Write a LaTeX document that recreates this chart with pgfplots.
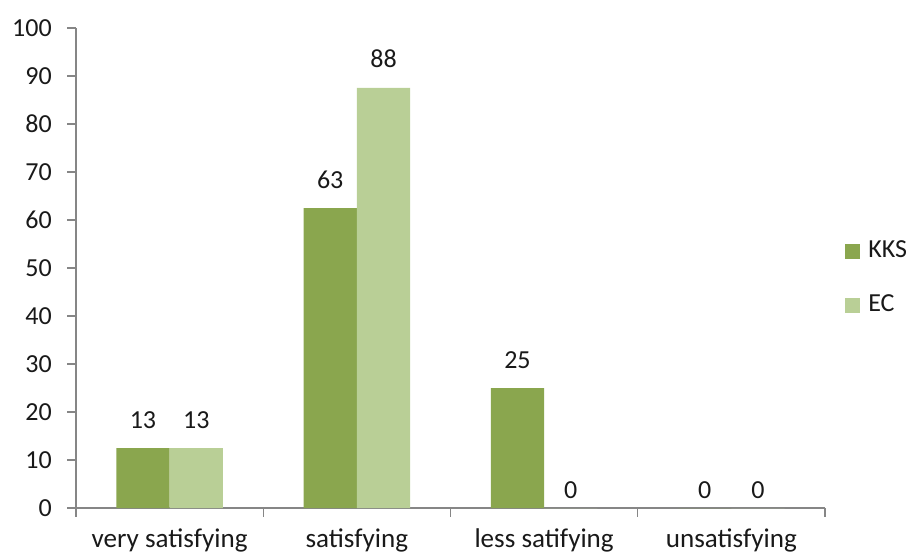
\documentclass[border=0pt]{standalone}
\usepackage{pgfplots}
\pgfplotsset{compat=1.18}
\usepackage{fontspec}
\setmainfont{Carlito}
\definecolor{kks}{HTML}{8AA64E}
\definecolor{ec}{HTML}{B9CF96}
\definecolor{axgray}{HTML}{868686}
\begin{document}
\fontsize{19.5}{23}\selectfont
\begin{tikzpicture}
\useasboundingbox (0,0) rectangle (681.75pt,415.5pt);
\begin{axis}[
  at={(57pt,34.5pt)}, anchor=south west,
  scale only axis, width=561.75pt, height=360pt,
  xmin=0, xmax=4, ymin=0, ymax=100,
  axis lines=left, axis line style={-, axgray, line width=0.8pt},
  ytick={0,10,...,100},
  xtick={0,1,2,3,4}, xticklabels={,,,,},
  extra x ticks={0.5,1.5,2.5,3.5},
  extra x tick labels={very satisfying, satisfying, less satifying, unsatisfying},
  extra x tick style={major tick length=0pt, xticklabel style={anchor=base, yshift=-29.5pt, font=\fontsize{20.3}{24}\selectfont}},
  tick align=outside, major tick length=6.5pt, tick style={axgray, line width=0.8pt},
  ticklabel style={font=\fontsize{19.5}{23}\selectfont, text=black!90},
  yticklabel style={anchor=east, xshift=-5pt},
  /pgf/number format/assume math mode=true,
  ybar=0pt, bar width=40pt,
  point meta=y,
  nodes near coords={\pgfmathprintnumber[fixed,precision=0]{\pgfplotspointmeta}},
  visualization depends on={rawy \as \rawy},
  nodes near coords style={anchor=base, font=\fontsize{19.5}{23}\selectfont, text=black!90, yshift={ifthenelse(\rawy==0,7.5,15)*1pt}},
  legend style={at={(1,0.479)}, anchor=west, xshift=15pt, draw=none, fill=none, inner sep=0pt, row sep=25pt, font=\fontsize{19.5}{23}\selectfont, nodes={inner sep=0pt, text=black!90}},
  legend cell align=left,
  legend image code/.code={\fill[#1] (0pt,-5.625pt) rectangle (11.25pt,5.625pt); \path (17.25pt,0pt);},
]
\addplot[fill=kks, draw=none] coordinates {(0.5,12.5) (1.5,62.5) (2.5,25) (3.5,0)};
\addplot[fill=ec, draw=none] coordinates {(0.5,12.5) (1.5,87.5) (2.5,0) (3.5,0)};
\legend{KKS, EC}
\end{axis}
\end{tikzpicture}
\end{document}
